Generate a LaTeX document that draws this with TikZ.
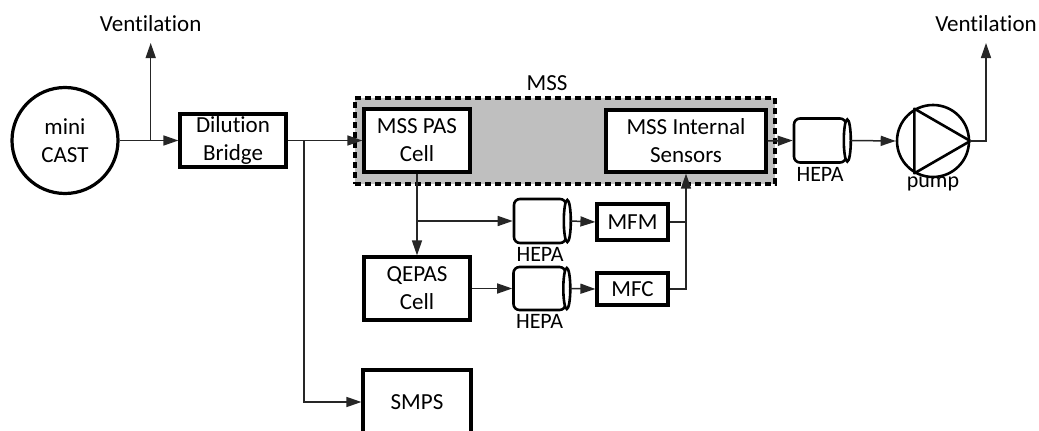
\documentclass[tikz,border=0pt]{standalone}
\usepackage{fontspec}
\setmainfont{Carlito}[Ligatures=NoCommon]
\usetikzlibrary{positioning,arrows.meta}

\begin{document}
\begin{tikzpicture}[x=1pt, y=-1pt,
    flow/.style={line width=1.5pt, draw=black!85},
    flowarrow/.style={flow, -{Triangle[length=15pt, width=10pt]}},
    unitbox/.style={draw=black, line width=3.2pt, fill=white, align=center, inner sep=0pt, font=\fontsize{23}{28}\selectfont},
    filterunit/.style={draw=black, line width=2.6pt, fill=white, rounded corners=6pt, minimum width=52pt, minimum height=44pt, inner sep=0pt},
    filtercap/.style={draw=black, line width=2.6pt, fill=white},
    smalltext/.style={inner sep=0pt, font=\fontsize{22}{26}\selectfont},
    tagtext/.style={inner sep=0pt, font=\fontsize{23}{28}\selectfont}
]
    \path[fill=white, use as bounding box] (0,0) rectangle (1039,431);

    % MSS enclosure
    \node[draw=black, fill=black!25, line width=3.4pt, dash pattern=on 6pt off 4pt, minimum width=420pt, minimum height=86pt] (mss) at (565,141) {};
    \node[tagtext] (msstag) at (547,83) {MSS};

    % Main line
    \node[unitbox, circle, minimum size=106pt] (cast) at (65,140.5) {mini\\CAST};
    \node[unitbox, minimum width=106pt, minimum height=53pt] (dilution) at (233,140.5) {Dilution\\Bridge};
    \node[unitbox, minimum width=106pt, minimum height=63pt] (pas) at (417,140.5) {MSS PAS\\Cell};
    \node[unitbox, minimum width=160pt, minimum height=62pt] (sens) at (686,141) {MSS Internal\\Sensors};
    \node[filterunit] (hepa1) at (820,140.5) {};
    \draw[filtercap] (hepa1.east) ellipse (3.5pt and 21pt);
    \node[smalltext, below=3pt of hepa1] (hepa1tag) {HEPA};
    \node[circle, draw=black, line width=2.6pt, fill=white, minimum size=72pt, inner sep=0pt] (pump) at (933,141) {};
    \draw[line width=2.6pt, line join=round] (pump.120) -- (pump.240) -- (pump.0) -- cycle;
    \node[smalltext, below=-2pt of pump] (pumptag) {pump};

    % Sampling branches
    \node[filterunit] (hepa2) at (540,221) {};
    \draw[filtercap] (hepa2.east) ellipse (3.5pt and 21pt);
    \node[smalltext, below=3pt of hepa2] (hepa2tag) {HEPA};
    \node[unitbox, minimum width=71pt, minimum height=36pt] (mfm) at (632.5,222) {MFM};
    \node[unitbox, minimum width=106pt, minimum height=63pt] (qepas) at (417,288.5) {QEPAS\\Cell};
    \node[filterunit, minimum height=43pt] (hepa3) at (539.5,288.5) {};
    \draw[filtercap] (hepa3.east) ellipse (3.5pt and 20.5pt);
    \node[smalltext, below=3pt of hepa3] (hepa3tag) {HEPA};
    \node[unitbox, minimum width=71pt, minimum height=32pt] (mfc) at (632.5,289) {MFC};
    \node[unitbox, minimum width=108pt, minimum height=64pt] (smps) at (417,402) {SMPS};

    % Outlets
    \coordinate (vent1) at (150.7,43);
    \coordinate (vent2) at (986,43);
    \node[tagtext, above=11pt of vent1] (vent1tag) {Ventilation};
    \node[tagtext, above=11pt of vent2] (vent2tag) {Ventilation};
    \coordinate (split1) at (304,140.5);

    % Connectors
    \draw[flowarrow] (cast.east) -- (dilution.west);
    \draw[flowarrow] (cast.east -| vent1) -- (vent1);
    \draw[flowarrow] (dilution.east) -- (pas.west);
    \draw[flowarrow] (split1) |- (smps.west);
    \draw[flowarrow] (pas.south) -- (qepas.north);
    \draw[flowarrow] (pas.south |- hepa2.west) -- (hepa2.west);
    \draw[flowarrow] ([xshift=3.5pt]hepa2.east) -- (mfm.west);
    \draw[flow] (mfm.east) -- (mfm.east -| sens.south);
    \draw[flowarrow] (mfc.east) -| (sens.south);
    \draw[flowarrow] (qepas.east) -- (hepa3.west);
    \draw[flowarrow] ([xshift=3.5pt]hepa3.east) -- (mfc.west);
    \draw[flowarrow] (sens.east) -- (hepa1.west);
    \draw[flowarrow] ([xshift=3.5pt]hepa1.east) -- (pump.west);
    \draw[flowarrow] (pump.east) -| (vent2);

\end{tikzpicture}
\end{document}
